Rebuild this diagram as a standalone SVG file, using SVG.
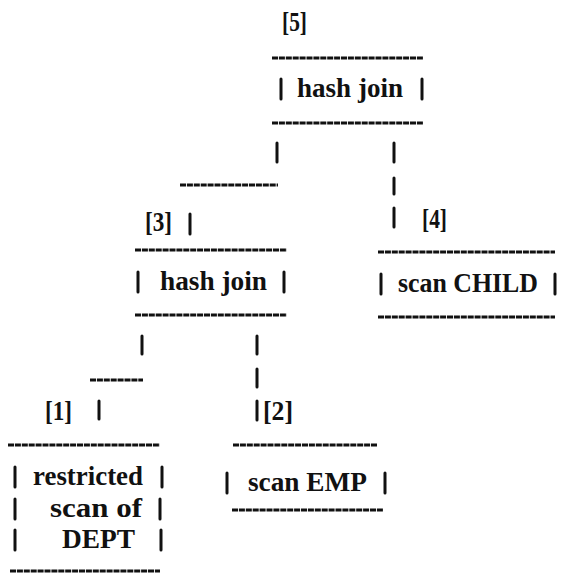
<svg xmlns="http://www.w3.org/2000/svg" width="561" height="573" viewBox="0 0 561 573">
<style>
text{font-family:"Liberation Serif","DejaVu Serif",serif;font-weight:bold;font-size:28px;fill:#111}
.rule{stroke:#111;stroke-width:3;stroke-dasharray:6 0.9;fill:none}
.bar{stroke:#111;stroke-width:3;stroke-linecap:round;fill:none}
</style>
<rect width="561" height="573" fill="#fff"/>
<g id="connectors">
<line class="bar" x1="277" y1="143" x2="277" y2="162"/>
<line class="rule" x1="180" y1="185" x2="278" y2="185"/>
<line class="bar" x1="190" y1="214" x2="190" y2="234"/>
<line class="bar" x1="394" y1="143" x2="394" y2="162"/>
<line class="bar" x1="394" y1="178" x2="394" y2="194"/>
<line class="bar" x1="394" y1="208" x2="394" y2="227"/>
<line class="bar" x1="142" y1="336" x2="142" y2="354"/>
<line class="rule" x1="90" y1="380" x2="143" y2="380"/>
<line class="bar" x1="99" y1="401" x2="99" y2="419"/>
<line class="bar" x1="257" y1="336" x2="257" y2="354"/>
<line class="bar" x1="257" y1="369" x2="257" y2="387"/>
<line class="bar" x1="257" y1="401" x2="257" y2="420"/>
</g>
<g id="node5">
<text x="282" y="31" textLength="25" lengthAdjust="spacingAndGlyphs">[5]</text>
<line class="rule" x1="272" y1="58" x2="423" y2="58"/>
<line class="bar" x1="281" y1="79" x2="281" y2="99"/>
<text x="297" y="97" textLength="106" lengthAdjust="spacingAndGlyphs">hash join</text>
<line class="bar" x1="422" y1="79" x2="422" y2="99"/>
<line class="rule" x1="272" y1="123" x2="423" y2="123"/>
</g>
<g id="node3">
<text x="145" y="231" textLength="27" lengthAdjust="spacingAndGlyphs">[3]</text>
<line class="rule" x1="135" y1="250" x2="287" y2="250"/>
<line class="bar" x1="138" y1="272" x2="138" y2="292"/>
<text x="160" y="290" textLength="107" lengthAdjust="spacingAndGlyphs">hash join</text>
<line class="bar" x1="284" y1="272" x2="284" y2="292"/>
<line class="rule" x1="135" y1="315" x2="287" y2="315"/>
</g>
<g id="node4">
<text x="422" y="228" textLength="25" lengthAdjust="spacingAndGlyphs">[4]</text>
<line class="rule" x1="378" y1="252" x2="555" y2="252"/>
<line class="bar" x1="381" y1="274" x2="381" y2="294"/>
<text x="398" y="292" textLength="140" lengthAdjust="spacingAndGlyphs">scan CHILD</text>
<line class="bar" x1="555" y1="274" x2="555" y2="294"/>
<line class="rule" x1="378" y1="317" x2="555" y2="317"/>
</g>
<g id="node1">
<text x="45" y="420" textLength="27" lengthAdjust="spacingAndGlyphs">[1]</text>
<line class="rule" x1="8" y1="445" x2="160" y2="445"/>
<line class="bar" x1="15" y1="467" x2="15" y2="487"/>
<text x="33" y="485" textLength="110" lengthAdjust="spacingAndGlyphs">restricted</text>
<line class="bar" x1="162" y1="467" x2="162" y2="487"/>
<line class="bar" x1="15" y1="499" x2="15" y2="519"/>
<text x="50" y="517" textLength="92" lengthAdjust="spacingAndGlyphs">scan of</text>
<line class="bar" x1="160" y1="499" x2="160" y2="519"/>
<line class="bar" x1="15" y1="530" x2="15" y2="550"/>
<text x="62" y="548" textLength="73" lengthAdjust="spacingAndGlyphs">DEPT</text>
<line class="bar" x1="161" y1="530" x2="161" y2="550"/>
<line class="rule" x1="10" y1="571" x2="160" y2="571"/>
</g>
<g id="node2">
<text x="263" y="420" textLength="30" lengthAdjust="spacingAndGlyphs">[2]</text>
<line class="rule" x1="233" y1="445" x2="377" y2="445"/>
<line class="bar" x1="227" y1="473" x2="227" y2="493"/>
<text x="248" y="491" textLength="119" lengthAdjust="spacingAndGlyphs">scan EMP</text>
<line class="bar" x1="385" y1="473" x2="385" y2="493"/>
<line class="rule" x1="232" y1="510" x2="383" y2="510"/>
</g>
</svg>
